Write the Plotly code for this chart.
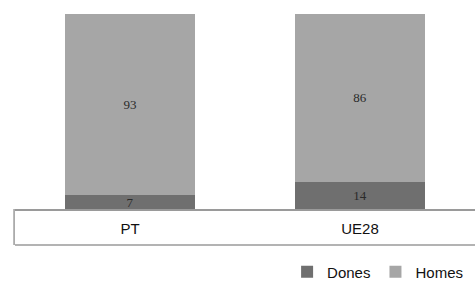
import plotly.graph_objects as go

categories = ["PT", "UE28"]
dones = [7, 14]
homes = [93, 86]

fig = go.Figure()
fig.add_trace(go.Bar(
    x=categories, y=dones, name="Dones",
    marker=dict(color="#6f6f6f", line=dict(width=0)),
    text=[str(v) for v in dones], textposition="inside", insidetextanchor="middle",
    textangle=0,
    textfont=dict(family="Liberation Serif", size=13, color="#2a2a2a"),
))
fig.add_trace(go.Bar(
    x=categories, y=homes, name="Homes",
    marker=dict(color="#a6a6a6", line=dict(width=0)),
    text=[str(v) for v in homes], textposition="inside", insidetextanchor="middle",
    textangle=0,
    textfont=dict(family="Liberation Serif", size=13, color="#2a2a2a"),
))

fig.update_layout(
    barmode="stack",
    bargap=0.435,
    width=476, height=285,
    margin=dict(l=15, r=1, t=14, b=76, autoexpand=False),
    paper_bgcolor="white", plot_bgcolor="white",
    uniformtext=dict(minsize=13, mode="show"),
    showlegend=True,
    legend=dict(orientation="h", x=0.985, xanchor="right", y=-0.323, yanchor="middle",
                font=dict(family="Liberation Sans", size=15, color="#111"),
                itemwidth=30, traceorder="normal", bgcolor="rgba(0,0,0,0)"),
    font=dict(family="Liberation Sans"),
)
fig.update_xaxes(showline=True, linecolor="#9a9a9a", linewidth=1.5,
                 tickfont=dict(family="Liberation Sans", size=15, color="#111"),
                 ticks="", ticklabelstandoff=5, showgrid=False, automargin=False)
fig.update_yaxes(range=[0, 100], visible=False, showgrid=False, automargin=False)

# category label box
fig.add_shape(type="line", xref="paper", yref="paper", x0=0, x1=1, y0=-0.185, y1=-0.185,
              line=dict(color="#9a9a9a", width=1.5))
fig.add_shape(type="line", xref="paper", yref="paper", x0=-0.002, x1=-0.002, y0=0, y1=-0.185,
              line=dict(color="#9a9a9a", width=1.5))

fig.write_html("out.html", post_script="document.body.style.margin='0';",
               config={"displayModeBar": False})
